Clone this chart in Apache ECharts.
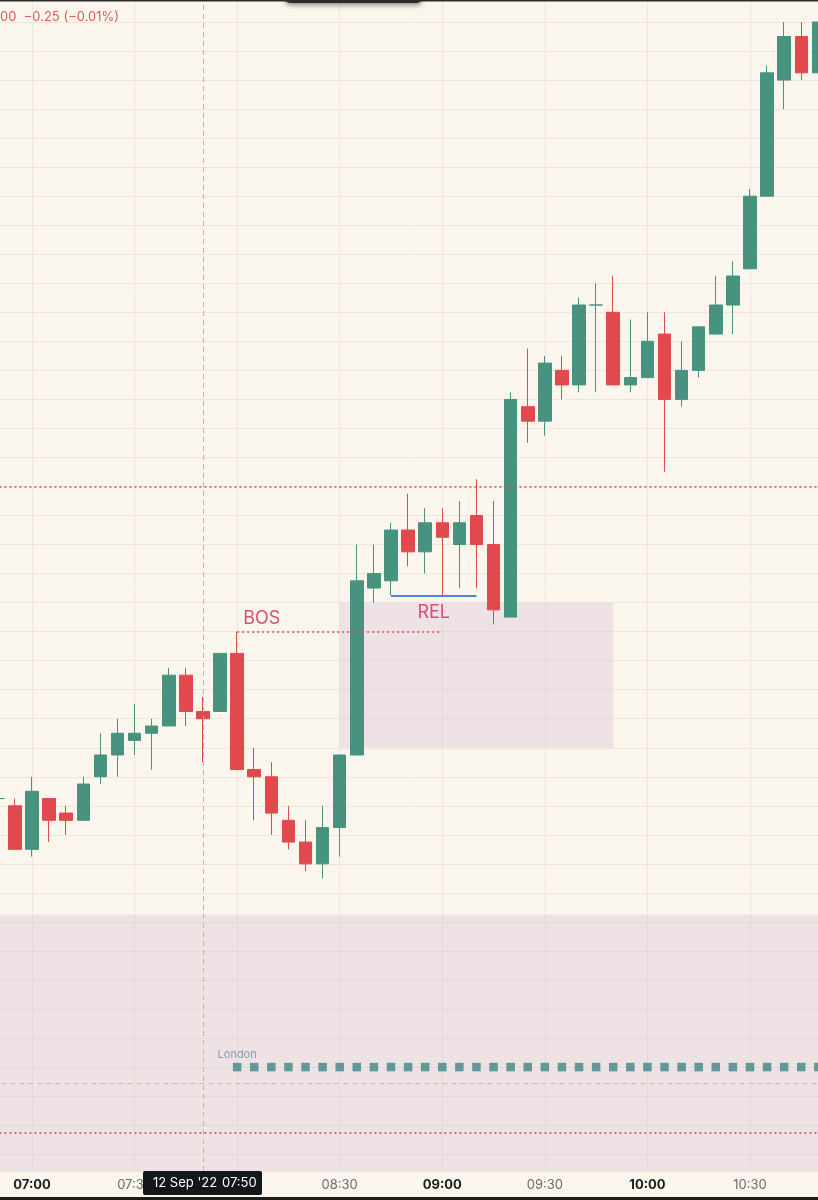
<!DOCTYPE html>
<html>
<head>
<meta charset="utf-8">
<script src="https://cdn.jsdelivr.net/npm/echarts@6/dist/echarts.min.js"></script>
<style>
  html, body { margin: 0; padding: 0; background: #FAF6ED; }
  #chart { width: 818px; height: 1200px; }
</style>
</head>
<body>
<div id="chart"></div>
<script>
// 5 min candles, ES, 12 Sep '22
const times = ['06:50', '06:55', '07:00', '07:05', '07:10', '07:15', '07:20', '07:25', '07:30', '07:35',
  '07:40', '07:45', '07:50', '07:55', '08:00', '08:05', '08:10', '08:15', '08:20', '08:25',
  '08:30', '08:35', '08:40', '08:45', '08:50', '08:55', '09:00', '09:05', '09:10', '09:15',
  '09:20', '09:25', '09:30', '09:35', '09:40', '09:45', '09:50', '09:55', '10:00', '10:05',
  '10:10', '10:15', '10:20', '10:25', '10:30', '10:35', '10:40', '10:45', '10:50'];
const opens = [4089.25, 4089, 4087.5, 4089.25, 4088.75, 4088.5, 4090, 4090.75, 4091.25, 4091.5,
  4091.75, 4093.5, 4092.25, 4092.25, 4094.25, 4090.25, 4090, 4088.5, 4087.75, 4087,
  4088.25, 4090.75, 4096.5, 4096.75, 4098.5, 4097.75, 4098.75, 4098, 4099, 4098,
  4095.5, 4102.75, 4102.25, 4104, 4103.5, 4106.25, 4106, 4103.5, 4103.75, 4105.25,
  4103, 4104, 4105.25, 4106.25, 4107.5, 4110, 4114, 4115.5, 4114.25];
const closes = [4089.25, 4087.5, 4089.5, 4088.5, 4088.5, 4089.75, 4090.75, 4091.5, 4091.5, 4091.75,
  4093.5, 4092.25, 4092, 4094.25, 4090.25, 4090, 4088.75, 4087.75, 4087, 4088.25,
  4090.75, 4096.75, 4097, 4098.5, 4097.75, 4098.75, 4098.25, 4098.75, 4098, 4095.75,
  4103, 4102.25, 4104.25, 4103.5, 4106.25, 4106.25, 4103.5, 4103.75, 4105, 4103,
  4104, 4105.5, 4106.25, 4107.25, 4110, 4114.25, 4115.5, 4114.25, 4116];
const lows = [4089, 4087.5, 4087.25, 4087.75, 4088, 4088.5, 4089.75, 4090, 4090.75, 4090.25,
  4091.75, 4091.75, 4090.5, 4092.25, 4090.25, 4088.5, 4088, 4087.5, 4086.75, 4086.5,
  4087.25, 4090.75, 4096, 4096.25, 4097.25, 4097, 4096.25, 4096.5, 4096.5, 4095.25,
  4095.5, 4101.5, 4101.75, 4103, 4103.25, 4103.25, 4103.5, 4103.25, 4103.75, 4100.5,
  4102.75, 4103.75, 4105.25, 4105.25, 4107.5, 4110, 4113, 4114, 4114];
const highs = [4089.5, 4089.25, 4090, 4089.25, 4089, 4090, 4091.5, 4092, 4092.5, 4092,
  4093.75, 4093.75, 4092.75, 4094.25, 4095, 4091, 4090.5, 4089, 4088.5, 4089,
  4090.75, 4098, 4098, 4098.75, 4099.75, 4099.25, 4099.25, 4099.5, 4100.25, 4099.5,
  4103.25, 4104.75, 4104.5, 4104.5, 4106.5, 4107, 4107.25, 4105.75, 4106, 4106,
  4105, 4105.5, 4107.25, 4107.75, 4110.25, 4114.5, 4116, 4116, 4116.25];

// drawings
const redLevels = [4100, 4077.75];
const bosLevel = 4095;
const bosSpan = ['08:00', '09:00'];
const relLevel = 4096.25;
const relSpan = ['08:45', '09:10'];
const obSpan = ['08:30', '09:50'];
const obPrices = [4091, 4096];
const sessionTop = 4085.25;
const londonLevel = 4080;
const londonStart = '08:00';
const crossTime = '07:50';
const crossPrice = 4079.45;
const boldTicks = ['07:00', '08:00', '09:00', '10:00'];

const UP = '#47937F';
const DOWN = '#E2494D';
const FONT = 'Inter, Roboto, sans-serif';

// minutes from 07:00
function toMin(t) {
  let p = t.split(':');
  return (+p[0]) * 60 + (+p[1]) - 420;
}
function toTime(m) {
  let total = m + 420;
  let h = Math.floor(total / 60), mm = total % 60;
  return (h < 10 ? '0' : '') + h + ':' + (mm < 10 ? '0' : '') + mm;
}

const candles = times.map((t, i) => [toMin(t), opens[i], closes[i], lows[i], highs[i]]);
const london = times.slice(times.indexOf(londonStart)).map((t, i) => {
  let item = { value: [toMin(t), londonLevel] };
  if (i === 0) {
    item.label = {
      show: true, position: 'top', distance: 3, formatter: 'London',
      color: '#6A8E9A', fontSize: 11, fontFamily: FONT
    };
  }
  return item;
});

// x: 07:00 sits at 32px, 3.419 px per minute
const PX = 3.419;
const X_MIN = -30;
const gridLeft = 32 + X_MIN * PX;
const X_MAX = X_MIN + (818 - gridLeft) / PX;
// y: 4116 at 22px, 29.03 px per point
const PY = 29.03;
const Y_MAX = 4116 + 22 / PY;
const Y_MIN = Y_MAX - 1171 / PY;

const chart = echarts.init(document.getElementById('chart'));
chart.setOption({
  backgroundColor: '#FAF6ED',
  animation: false,
  grid: { left: gridLeft, right: 0, top: 0, bottom: 29, containLabel: false, outerBoundsMode: 'none' },
  xAxis: {
    type: 'value',
    min: X_MIN,
    max: X_MAX,
    interval: 30,
    axisLine: { show: false },
    axisTick: { show: false },
    splitLine: { show: true, lineStyle: { color: '#ECE6DC', width: 1 } },
    axisLabel: {
      margin: 8,
      fontFamily: FONT,
      fontSize: 13,
      formatter: function (v) {
        if (v % 30 !== 0) return '';
        let s = toTime(v);
        return boldTicks.indexOf(s) >= 0 ? '{b|' + s + '}' : '{n|' + s + '}';
      },
      rich: {
        b: { fontWeight: 'bold', color: '#1D1D1D', fontSize: 13, fontFamily: FONT },
        n: { color: '#6B6B6B', fontSize: 13, fontFamily: FONT }
      }
    }
  },
  yAxis: {
    type: 'value',
    min: Y_MIN,
    max: Y_MAX,
    splitNumber: 40,
    axisLine: { show: false },
    axisTick: { show: false },
    axisLabel: { show: false },
    splitLine: { show: true, lineStyle: { color: '#ECE6DC', width: 1 } }
  },
  series: [{
    type: 'candlestick',
    data: candles,
    barWidth: 13,
    clip: true,
    itemStyle: {
      color: UP, color0: DOWN,
      borderColor: UP, borderColor0: DOWN,
      borderWidth: 1
    },
    emphasis: { disabled: true },
    markArea: {
      silent: true,
      itemStyle: { color: 'rgba(216,189,211,0.35)' },
      data: [
        [{ xAxis: toMin(obSpan[0]), yAxis: obPrices[1] }, { xAxis: toMin(obSpan[1]), yAxis: obPrices[0] }],
        [{ yAxis: sessionTop }, { yAxis: Y_MIN }]
      ]
    },
    markLine: {
      silent: true,
      symbol: ['none', 'none'],
      label: { show: false },
      data: [
        { yAxis: redLevels[0], lineStyle: { color: '#E0504F', type: [2, 3], width: 1.5 } },
        { yAxis: redLevels[1], lineStyle: { color: '#D9405A', type: [2, 3], width: 1.5 } },
        { xAxis: toMin(crossTime), lineStyle: { color: '#BDB7AE', type: [5, 4], width: 1 } },
        { yAxis: crossPrice, lineStyle: { color: '#C2BBB5', type: [5, 4], width: 1 } },
        [{
          coord: [toMin(bosSpan[0]), bosLevel],
          lineStyle: { color: '#D4486A', type: [2, 3], width: 1.5 },
          label: {
            show: true, position: 'insideStartTop', distance: [6, 4], formatter: 'BOS',
            color: '#D6507A', fontSize: 18, fontFamily: FONT
          }
        }, { coord: [toMin(bosSpan[1]), bosLevel] }],
        [{
          coord: [toMin(relSpan[0]), relLevel],
          lineStyle: { color: '#4F84D8', type: 'solid', width: 2 },
          label: {
            show: true, position: 'insideMiddleBottom', distance: 8, formatter: 'REL',
            color: '#D6507A', fontSize: 18, fontFamily: FONT
          }
        }, { coord: [toMin(relSpan[1]), relLevel] }]
      ]
    }
  }, {
    type: 'scatter',
    data: london,
    symbol: 'rect',
    symbolSize: 8.5,
    clip: false,
    itemStyle: { color: '#3B8883' },
    emphasis: { disabled: true },
    z: 3
  }],
  graphic: [
    {
      type: 'text', left: 0, top: 11, z: 100,
      style: { text: '00  \u22120.25 (\u22120.01%)', fill: '#DE5A5C', font: '13px ' + FONT }
    },
    {
      type: 'rect', z: 100,
      shape: { x: 0, y: 0, width: 818, height: 1.5 },
      style: { fill: '#2E2C2A' }
    },
    {
      type: 'rect', z: 100,
      shape: { x: 285, y: -8, width: 137, height: 11, r: 5 },
      style: { fill: '#2E2C2A', shadowBlur: 5, shadowOffsetY: 2, shadowColor: 'rgba(0,0,0,0.45)' }
    },
    {
      type: 'rect', z: 100,
      shape: { x: 0, y: 1197, width: 818, height: 3 },
      style: { fill: '#1E1D1C' }
    },
    {
      type: 'rect', z: 100,
      shape: { x: 143, y: 1171, width: 119, height: 24, r: 2 },
      style: { fill: '#141619' }
    },
    {
      type: 'text', x: 153, y: 1183, z: 101,
      style: { text: "12 Sep '22", fill: '#FFFFFF', font: '13px ' + FONT, verticalAlign: 'middle' }
    },
    {
      type: 'text', x: 222, y: 1183, z: 101,
      style: { text: crossTime, fill: '#FFFFFF', font: '13px ' + FONT, verticalAlign: 'middle' }
    }
  ]
});
</script>
</body>
</html>
